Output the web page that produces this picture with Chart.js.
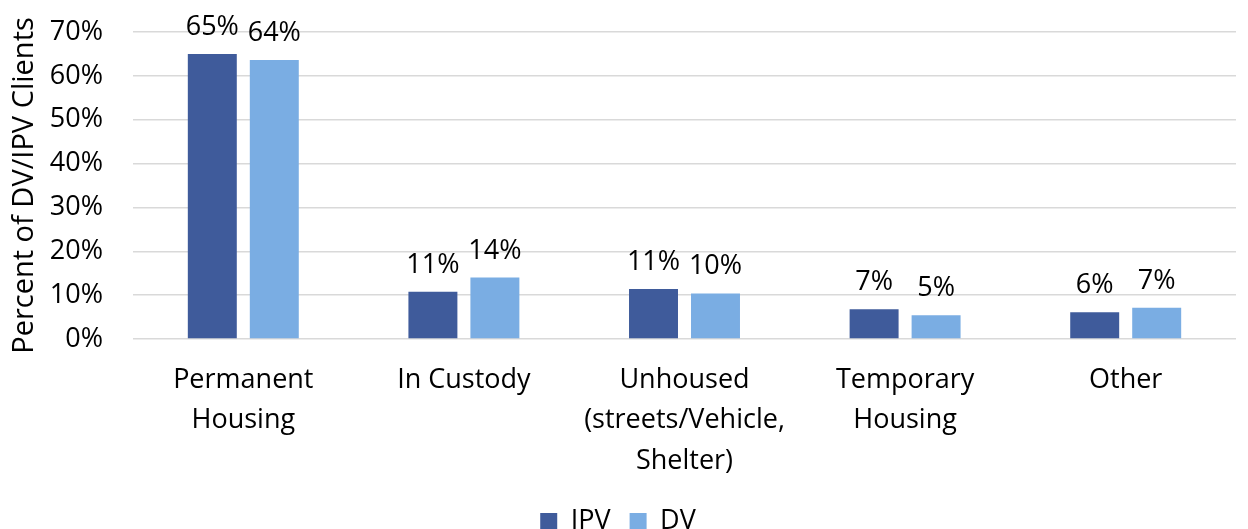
<!DOCTYPE html>
<html>
<head>
<meta charset="utf-8">
<script src="https://cdn.jsdelivr.net/npm/chart.js@4/dist/chart.umd.min.js"></script>
<style>
  html, body { margin: 0; padding: 0; background: #fff; }
  #wrap { width: 1248px; height: 529px; }
</style>
</head>
<body>
<div id="wrap"><canvas id="housingChart"></canvas></div>
<script>
const categories = [
  ["Permanent", "Housing"],
  "In Custody",
  ["Unhoused", "(streets/Vehicle,", "Shelter)"],
  ["Temporary", "Housing"],
  "Other"
];
const ipvValues = [65.0, 10.8, 11.4, 6.8, 6.1];
const dvValues = [63.6, 14.0, 10.4, 5.4, 7.1];
const yTicks = [0, 10, 20, 30, 40, 50, 60, 70];

const FONT = "'Open Sans', sans-serif";
const TEXT = "#000000";

// draws the "65%" labels on top of every bar
const barLabels = {
  id: "barLabels",
  afterDatasetsDraw(chart) {
    const ctx = chart.ctx;
    ctx.save();
    ctx.font = `27px ${FONT}`;
    ctx.fillStyle = TEXT;
    ctx.textAlign = "center";
    ctx.textBaseline = "alphabetic";
    chart.data.datasets.forEach((ds, i) => {
      chart.getDatasetMeta(i).data.forEach((bar, j) => {
        ctx.fillText(`${Math.round(ds.data[j])}%`, bar.x, bar.y - 19);
      });
    });
    ctx.restore();
  }
};

new Chart(document.getElementById("housingChart"), {
  type: "bar",
  data: {
    labels: categories,
    datasets: [
      { label: "IPV", data: ipvValues, backgroundColor: "#3F5B9B" },
      { label: "DV", data: dvValues, backgroundColor: "#7AADE3" }
    ]
  },
  options: {
    responsive: true,
    maintainAspectRatio: false,
    animation: false,
    categoryPercentage: 0.562,
    barPercentage: 0.79,
    layout: { padding: { top: 32, right: 12, left: 0, bottom: -16 } },
    plugins: {
      tooltip: { enabled: false },
      legend: {
        position: "bottom",
        labels: {
          color: TEXT,
          font: { family: FONT, size: 27 },
          boxWidth: 17,
          boxHeight: 17,
          padding: 19
        }
      }
    },
    scales: {
      x: {
        grid: { display: false },
        border: { display: false },
        ticks: {
          color: TEXT,
          font: { family: FONT, size: 27, lineHeight: 1.5 },
          padding: 13,
          maxRotation: 0,
          autoSkip: false
        },
        afterFit(scale) { scale.height = 150; }
      },
      y: {
        min: 0,
        max: 70,
        afterBuildTicks(scale) { scale.ticks = yTicks.map(v => ({ value: v })); },
        grid: { color: "#D9D9D9", lineWidth: 1.5, drawTicks: false },
        border: { display: false },
        ticks: {
          color: TEXT,
          font: { family: FONT, size: 27 },
          padding: 30,
          callback: v => `${v}%`
        },
        title: {
          display: true,
          text: "Percent of DV/IPV Clients",
          color: TEXT,
          font: { family: FONT, size: 29 },
          padding: { top: 7, bottom: 0 }
        },
        afterFit(scale) {
          scale.width = 133;
          scale.paddingTop = 0;
          scale.paddingBottom = 0;
        }
      }
    }
  },
  plugins: [barLabels]
});
</script>
</body>
</html>
